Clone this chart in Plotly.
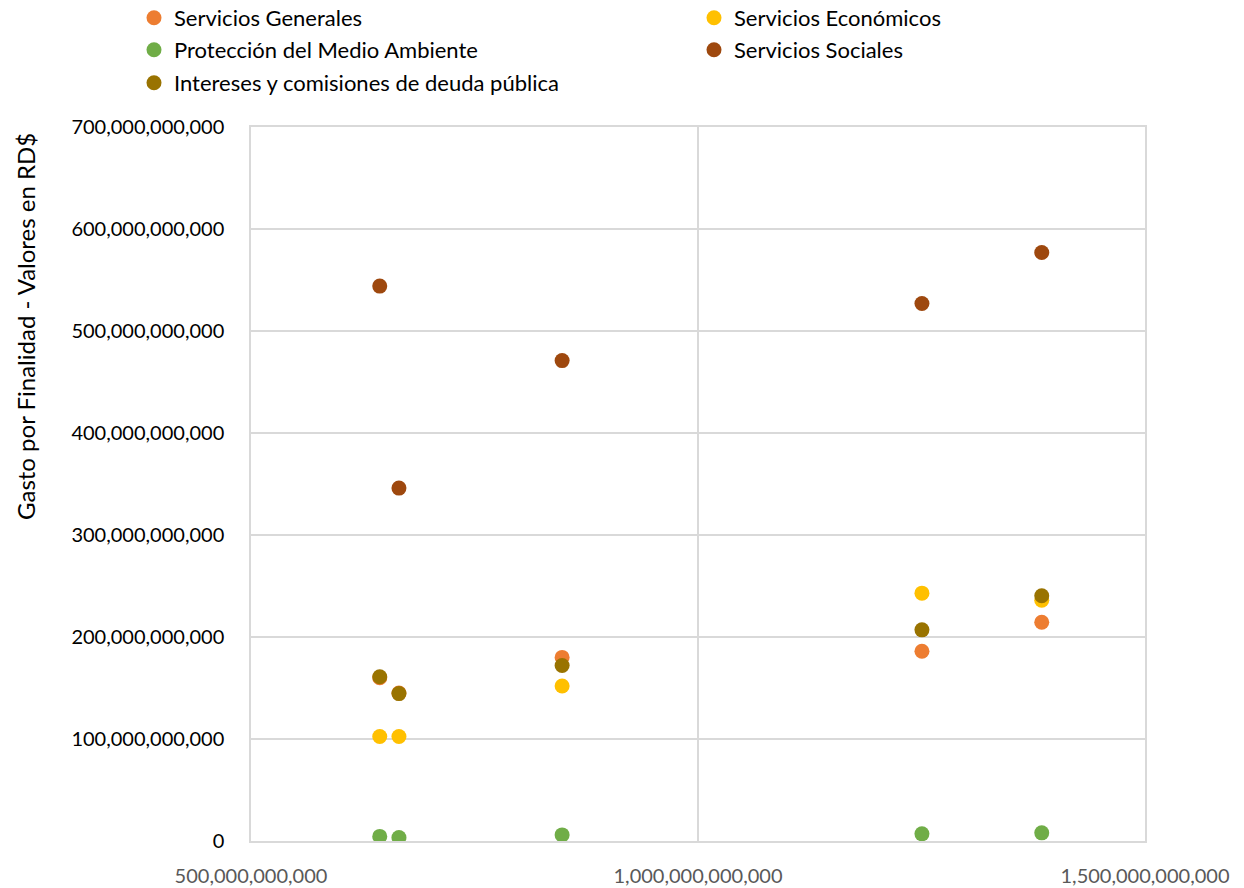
import plotly.graph_objects as go

x_vals = [644e9, 665.5e9, 848e9, 1250.5e9, 1384.5e9]
series_names = ["Servicios Generales", "Servicios Económicos", "Protección del Medio Ambiente",
                "Servicios Sociales", "Intereses y comisiones de deuda pública"]
generales = [160e9, 145e9, 180e9, 186e9, 214.5e9]
economicos = [102.5e9, 102.5e9, 152e9, 243e9, 236e9]
medio_ambiente = [4.5e9, 3.5e9, 6e9, 7e9, 8e9]
sociales = [544e9, 346e9, 471e9, 527e9, 577e9]
intereses = [161e9, 144.5e9, 172e9, 207e9, 240.5e9]
colors = ["#ED7D31", "#FFC000", "#70AD47", "#9E480E", "#997300"]
x_ticks = [500e9, 1000e9, 1500e9]
y_ticks = [i * 100e9 for i in range(8)]
y_title = "Gasto por Finalidad - Valores en RD$"

# the page body adds an 8px margin, so the figure is 8px smaller and shifted
OFF = 8
W, H = 1244 - OFF, 888 - OFF
legend_ids = ["legend", "legend2", "legend3", "legend4", "legend5"]
legend_pos = [(134, 18), (694, 18), (134, 50), (694, 50), (134, 83)]

fig = go.Figure()
for name, ys, c, lg in zip(series_names, [generales, economicos, medio_ambiente, sociales, intereses],
                           colors, legend_ids):
    fig.add_trace(go.Scatter(x=x_vals, y=ys, mode="markers", name=name, legend=lg,
                             marker=dict(color=c, size=15, line=dict(width=0))))

font = "Lato, Calibri, Carlito, sans-serif"


def leg(xpix, ypix):
    return dict(orientation="h", x=(xpix - OFF) / W, xref="container",
                y=1 - (ypix - OFF) / H, yref="container",
                yanchor="middle", xanchor="left",
                font=dict(size=22, color="#000000"), itemwidth=30,
                bgcolor="rgba(0,0,0,0)")


legends = {lid: leg(px, py) for lid, (px, py) in zip(legend_ids, legend_pos)}
grid = "#D9D9D9"

fig.update_layout(
    width=W, height=H,
    margin=dict(l=251 - OFF, r=99, t=127 - OFF, b=47, autoexpand=False),
    paper_bgcolor="white", plot_bgcolor="white",
    font=dict(family=font, size=20, color="#000000"),
    showlegend=True,
    xaxis=dict(range=[500e9, 1500e9], tickvals=x_ticks, tickformat=",.0f", automargin=False,
               showgrid=True, gridcolor=grid, gridwidth=1.5, zeroline=False,
               showline=True, linecolor=grid, linewidth=1.5, mirror=True,
               ticks="", ticklabelstandoff=16,
               tickfont=dict(size=20, color="#595959")),
    yaxis=dict(range=[0, 700e9], tickvals=y_ticks, tickformat=",.0f", automargin=False,
               showgrid=True, gridcolor=grid, gridwidth=1.5, zeroline=False,
               showline=True, linecolor=grid, linewidth=1.5, mirror=True,
               ticks="", ticklabelstandoff=21,
               tickfont=dict(size=20, color="#000000")),
    annotations=[dict(text=y_title, textangle=-90, xref="paper", yref="paper",
                      x=(25 - 251) / 894, y=(841 - 327) / 714, xanchor="center", yanchor="middle",
                      showarrow=False, font=dict(size=24, color="#000000"))],
    **legends,
)
fig.write_html("out.html")
